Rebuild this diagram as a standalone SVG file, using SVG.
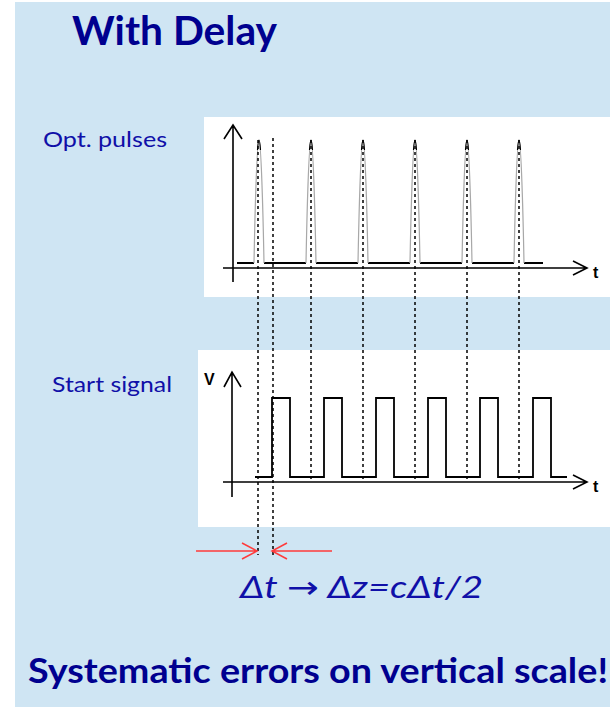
<svg xmlns="http://www.w3.org/2000/svg" width="610" height="707" viewBox="0 0 610 707">
<style>
.ax{fill:none;stroke:#000;stroke-width:1.6}
.sig{fill:none;stroke:#000;stroke-width:1.8}
.pulse{fill:none;stroke:#a8a8a8;stroke-width:1.2}
.ptop{fill:none;stroke:#000;stroke-width:1.2}
.dash{fill:none;stroke:#000;stroke-width:1.5;stroke-dasharray:3,3}
.red{fill:none;stroke:#ff3b3b;stroke-width:1.5}
.lbl{font-family:Lato,"Liberation Sans",Arial,sans-serif;fill:#1010a8}
.big{font-family:Lato,"Liberation Sans",Arial,sans-serif;font-weight:bold;fill:#00008f}
.ax-t{font-family:"Liberation Sans",Arial,sans-serif;font-weight:bold;fill:#000;font-size:16px}
</style>
<rect x="0" y="0" width="610" height="707" fill="#ffffff"/>
<rect x="15" y="2" width="595" height="705" fill="#cfe5f3"/>
<g id="title"><text class="big" x="72" y="45" font-size="40" textLength="205" lengthAdjust="spacingAndGlyphs">With Delay</text></g>
<g id="opt-pulses-label"><text class="lbl" x="43" y="147" font-size="22" textLength="124" lengthAdjust="spacingAndGlyphs">Opt. pulses</text></g>
<g id="start-signal-label"><text class="lbl" x="52" y="392" font-size="22" textLength="120" lengthAdjust="spacingAndGlyphs">Start signal</text></g>
<g id="panel-pulses">
<rect x="204" y="117" width="406" height="180" fill="#ffffff"/>
<path class="ax" d="M233,282 V125 M224,139 L233,125 L242,139"/>
<path class="ax" d="M223,268 H587 M573,261 L587,268 L573,275"/>
<text class="ax-t" x="593" y="278">t</text>
<path class="sig" d="M237,263 H254 M264,263 H306 M316,263 H358 M368,263 H410 M420,263 H462 M472,263 H514 M524,263 H543"/>
<g id="pulses">
<path class="pulse" d="M254,263 C255,210 257,140 259,140 C261,140 263,210 264,263"/>
<path class="pulse" d="M306,263 C307,210 309,140 311,140 C313,140 315,210 316,263"/>
<path class="pulse" d="M358,263 C359,210 361,140 363,140 C365,140 367,210 368,263"/>
<path class="pulse" d="M410,263 C411,210 413,140 415,140 C417,140 419,210 420,263"/>
<path class="pulse" d="M462,263 C463,210 465,140 467,140 C469,140 471,210 472,263"/>
<path class="pulse" d="M514,263 C515,210 517,140 519,140 C521,140 523,210 524,263"/>
<path class="ptop" d="M257.5,150 C258,143 258.5,140 259,140 C259.5,140 260,143 260.5,150 M309.5,150 C310,143 310.5,140 311,140 C311.5,140 312,143 312.5,150 M361.5,150 C362,143 362.5,140 363,140 C363.5,140 364,143 364.5,150 M413.5,150 C414,143 414.5,140 415,140 C415.5,140 416,143 416.5,150 M465.5,150 C466,143 466.5,140 467,140 C467.5,140 468,143 468.5,150 M517.5,150 C518,143 518.5,140 519,140 C519.5,140 520,143 520.5,150"/>
</g>
</g>
<g id="panel-start">
<rect x="198" y="350" width="412" height="177" fill="#ffffff"/>
<path class="ax" d="M232,497 V372 M224,387 L232,372 L241,387"/>
<path class="ax" d="M223,482 H587 M573,475 L587,482 L573,489"/>
<text class="ax-t" x="593" y="492">t</text>
<text class="ax-t" x="204" y="385" font-size="15">V</text>
<path class="sig" d="M255,477 H272 V398 H290 V477 H324 V398 H342 V477 H376 V398 H394 V477 H428 V398 H446 V477 H480 V398 H498 V477 H533 V398 H551 V477 H567"/>
</g>
<g id="connectors">
<path class="dash" d="M258,140 V555"/>
<path class="dash" d="M273,138 V555"/>
<path class="dash" d="M311,140 V482"/>
<path class="dash" d="M363,140 V482"/>
<path class="dash" d="M415,140 V482"/>
<path class="dash" d="M467,140 V482"/>
<path class="dash" d="M519,140 V482"/>
<path class="red" d="M196,551 H257 M242,543 L257,551 L242,559"/>
<path class="red" d="M332,551 H272 M287,543 L272,551 L287,559"/>
</g>
<g id="formula"><text class="lbl" x="240" y="598" font-size="31" font-style="italic" fill="#1a1a9e" textLength="243" lengthAdjust="spacingAndGlyphs">Δt <tspan font-family="'DejaVu Sans',sans-serif" font-style="normal">→</tspan> Δz=cΔt/2</text></g>
<g id="conclusion"><text class="big" x="28" y="683" font-size="34" textLength="580" lengthAdjust="spacingAndGlyphs">Systematic errors on vertical scale!</text></g>
</svg>
